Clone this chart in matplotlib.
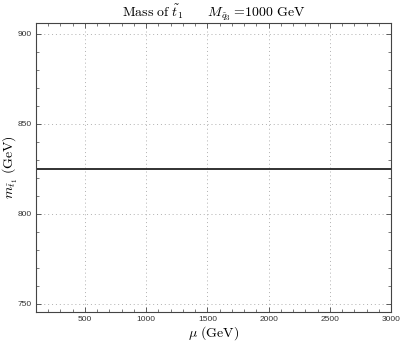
import matplotlib
matplotlib.use('Agg')
import matplotlib.pyplot as plt
from matplotlib.ticker import MultipleLocator

plt.rcParams['mathtext.fontset'] = 'cm'
plt.rcParams['font.family'] = ['Liberation Sans', 'DejaVu Sans']

# data: stop mass vs mu
mu = [100, 500, 1000, 1500, 2000, 2500, 3000]
m_stop = [825, 825, 825, 825, 825, 825, 825]

fig = plt.figure(figsize=(4.03, 3.43), dpi=100)
ax = fig.add_axes([0.0893, 0.0904, 0.881, 0.843])
ax.plot(mu, m_stop, color='#222222', lw=1.3)

ax.set_xlim(100, 3000)
ax.set_ylim(745.5, 906)
ax.xaxis.set_major_locator(MultipleLocator(500))
ax.xaxis.set_minor_locator(MultipleLocator(100))
ax.yaxis.set_major_locator(MultipleLocator(50))
ax.yaxis.set_minor_locator(MultipleLocator(10))
ax.tick_params(which='both', direction='in', top=True, right=True,
               labelsize=6, labelcolor='#333333', color='#444444')
ax.tick_params(which='major', length=3.5, width=0.6, pad=3)
ax.tick_params(which='minor', length=2, width=0.5)
ax.grid(True, which='major', linestyle=(0, (1, 3)), color='#b0b0b0', lw=0.7)
for s in ax.spines.values():
    s.set_linewidth(0.8)
    s.set_color('#444444')

ax.set_xlabel(r'$\mu\ \mathrm{(GeV)}$', fontsize=10, labelpad=1)
ax.set_ylabel(r'$m_{\tilde{t}_1}\ \mathrm{(GeV)}$', fontsize=10)
ax.yaxis.set_label_coords(-0.046, 0.5)
ax.set_title(r'$\mathrm{Mass\ of\ }\tilde{t}_1\qquad M_{\tilde{q}_3}=\!\mathrm{1000\ GeV}$',
             fontsize=10, pad=4)

fig.savefig('out.png', dpi=100)
